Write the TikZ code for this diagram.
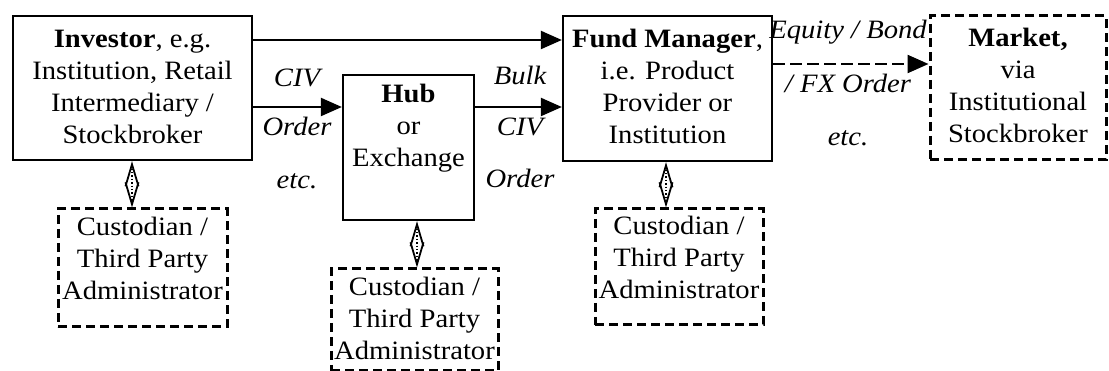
\documentclass[tikz,border=0pt]{standalone}
\usepackage{fontspec}
\setmainfont{Liberation Serif}[FakeStretch=1.08]
\usetikzlibrary{arrows.meta}
\begin{document}
\begin{tikzpicture}[x=1pt,y=-1pt,
  every node/.style={font=\fontsize{26.5}{32}\selectfont, inner sep=0pt},
  solidbox/.style={draw, line width=2.3pt, rectangle},
  dashbox/.style={draw, line width=3pt, rectangle, dash pattern=on 9pt off 5pt},
  txt/.style={align=center},
  lbl/.style={font=\fontsize{26.5}{32}\selectfont\itshape},
  flow/.style={line width=2.3pt, -{Triangle[length=21pt,width=18pt]}},
  dflow/.style={flow, dash pattern=on 12pt off 5pt},
  link/.style={line width=1.4pt, dotted, {Straight Barb[length=22pt,width=13pt,line width=1.8pt]}-{Straight Barb[length=22pt,width=13pt,line width=1.8pt]}}
]
\useasboundingbox (0,0) rectangle (1109,371);
% main boxes
\node[solidbox, minimum width=239pt, minimum height=144pt] (inv) at (132.5,88) {};
\node[solidbox, minimum width=131pt, minimum height=145pt] (hub) at (408.5,147.5) {};
\node[solidbox, minimum width=209pt, minimum height=145pt] (fm) at (667.5,88.5) {};
\node[dashbox, minimum width=176pt, minimum height=144pt] (mkt) at (1018,88) {};
\node[dashbox, minimum width=169pt, minimum height=118pt] (c1) at (142.5,268) {};
\node[dashbox, minimum width=167pt, minimum height=102pt] (c2) at (414.5,320) {};
\node[dashbox, minimum width=168pt, minimum height=116pt] (c3) at (679,267) {};
% texts
\node[txt] (invt) at (132.5,87) {\textbf{Investor}, e.g.\\Institution, Retail\\Intermediary /\\Stockbroker};
\node[txt] (hubt) at (408.5,128) {\textbf{Hub}\\or\\Exchange};
\node[txt] (fmt) at (667.5,86) {\textbf{Fund Manager},\\i.e. Product\\Provider or\\Institution};
\node[txt] (mktt) at (1018,85) {\textbf{Market,}\\via\\Institutional\\Stockbroker};
\node[txt] (c1t) at (142.5,258) {Custodian /\\Third Party\\Administrator};
\node[txt] (c2t) at (414.5,318) {Custodian /\\Third Party\\Administrator};
\node[txt] (c3t) at (679,257) {Custodian /\\Third Party\\Administrator};
% connectors
\draw[flow] (inv.east |- 0,40) -- (fm.west |- 0,40);
\draw[flow] (inv.east |- 0,107) -- (hub.west |- 0,107);
\draw[flow] (hub.east |- 0,107) -- (fm.west |- 0,107);
\draw[dflow] (fm.east |- 0,64) -- (mkt.west |- 0,64);
\draw[link] (inv.south -| 132,0) -- (c1.north -| 132,0);
\draw[link] (hub.south -| 417,0) -- (c2.north -| 417,0);
\draw[link] (fm.south -| 666,0) -- (c3.north -| 666,0);
% labels
\node[lbl] (l1) at (297,78) {CIV};
\node[lbl] (l2) at (297,126) {Order};
\node[lbl] (l3) at (297,181) {etc.};
\node[lbl] (l4) at (520,75) {Bulk};
\node[lbl] (l5) at (520,127) {CIV};
\node[lbl] (l6) at (520,178) {Order};
\node[lbl] (l7) at (848,32) {Equity / Bond};
\node[lbl] (l8) at (848,83) {/ FX Order};
\node[lbl] (l9) at (848,138) {etc.};
\end{tikzpicture}
\end{document}
